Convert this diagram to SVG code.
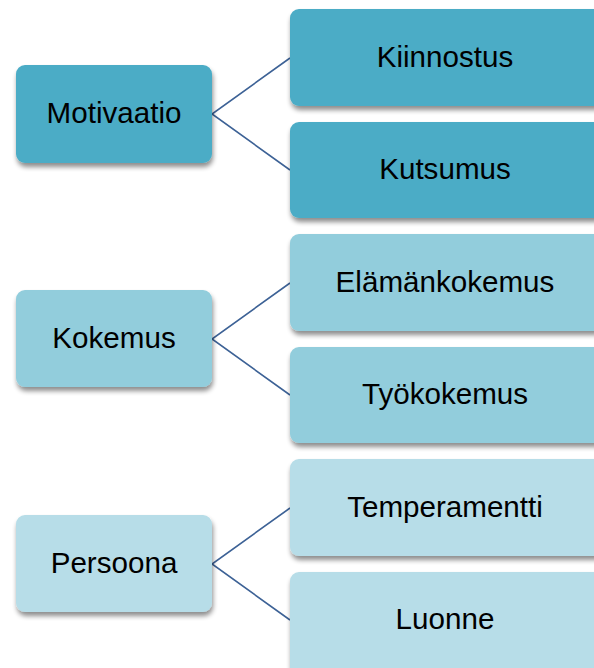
<svg xmlns="http://www.w3.org/2000/svg" width="594" height="668" viewBox="0 0 594 668">
  <defs>
    <filter id="shadow" x="-10%" y="-10%" width="120%" height="130%">
      <feGaussianBlur in="SourceAlpha" stdDeviation="2.5"/>
      <feOffset dx="1" dy="4" result="off"/>
      <feComponentTransfer><feFuncA type="linear" slope="0.45"/></feComponentTransfer>
      <feMerge><feMergeNode/><feMergeNode in="SourceGraphic"/></feMerge>
    </filter>
  </defs>
  <style>
    .box { filter: url(#shadow); }
    .dark { fill: #4BACC6; }
    .mid { fill: #92CDDC; }
    .light { fill: #B7DDE8; }
    .lbl { font-family: "Liberation Sans", Arial, sans-serif; font-size: 29.6px; fill: #000; text-anchor: middle; }
    .conn { fill: none; stroke: #3D6296; stroke-width: 1.6; }
  </style>
  <rect width="594" height="668" fill="#fff"/>

  <g id="connectors">
    <polyline class="conn" points="290,58 212,114 290,170"/>
    <polyline class="conn" points="290,283 212,339 290,395"/>
    <polyline class="conn" points="290,508 212,564 290,620"/>
  </g>

  <!-- Motivaatio group -->
  <g id="motivaatio">
    <rect class="box dark" x="16" y="65" width="196" height="98" rx="9"/>
    <text class="lbl" x="114" y="123">Motivaatio</text>
  </g>
  <g id="kiinnostus">
    <rect class="box dark" x="290" y="9" width="314" height="97" rx="9"/>
    <text class="lbl" x="445" y="67">Kiinnostus</text>
  </g>
  <g id="kutsumus">
    <rect class="box dark" x="290" y="122" width="314" height="96" rx="9"/>
    <text class="lbl" x="445" y="179">Kutsumus</text>
  </g>

  <!-- Kokemus group -->
  <g id="kokemus">
    <rect class="box mid" x="16" y="290" width="196" height="97" rx="9"/>
    <text class="lbl" x="114" y="348">Kokemus</text>
  </g>
  <g id="elamankokemus">
    <rect class="box mid" x="290" y="234" width="314" height="97" rx="9"/>
    <text class="lbl" x="445" y="292">Elämänkokemus</text>
  </g>
  <g id="tyokokemus">
    <rect class="box mid" x="290" y="347" width="314" height="96" rx="9"/>
    <text class="lbl" x="445" y="404">Työkokemus</text>
  </g>

  <!-- Persoona group -->
  <g id="persoona">
    <rect class="box light" x="16" y="515" width="196" height="97" rx="9"/>
    <text class="lbl" x="114" y="573">Persoona</text>
  </g>
  <g id="temperamentti">
    <rect class="box light" x="290" y="459" width="314" height="97" rx="9"/>
    <text class="lbl" x="445" y="517">Temperamentti</text>
  </g>
  <g id="luonne">
    <rect class="box light" x="290" y="572" width="314" height="106" rx="9"/>
    <text class="lbl" x="445" y="629">Luonne</text>
  </g>
</svg>
